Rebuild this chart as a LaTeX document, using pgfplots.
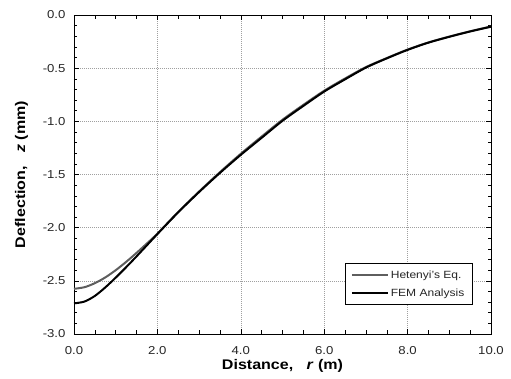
\documentclass[border=0pt]{standalone}
\usepackage{pgfplots}
\pgfplotsset{compat=1.18}
\usepackage{fontspec}
\setmainfont{Liberation Sans}[FakeStretch=1.15]
\usetikzlibrary{calc}
\definecolor{hetgray}{HTML}{5E5E5E}
\definecolor{gridgray}{HTML}{A0A0A0}
\begin{document}
\begin{tikzpicture}
\begin{axis}[
  scale only axis,
  width=417bp, height=319bp,
  xmin=0, xmax=10, ymin=-3, ymax=0,
  xtick={0,2,4,6,8,10},
  ytick={-3,-2.5,-2,-1.5,-1,-0.5,0},
  minor x tick num=3,
  minor y tick num=4,
  tick align=inside,
  major tick length=5bp,
  minor tick length=3.5bp,
  tick style={black, line width=0.5pt},
  axis line style={black, line width=0.6pt},
  grid=major,
  major grid style={gridgray, line width=0.6bp, dash pattern=on 1bp off 1bp},
  /pgf/number format/assume math mode=true,
  /pgf/number format/.cd, fixed, fixed zerofill, precision=1, /pgfplots/.cd,
  ticklabel style={font=\fontsize{11.5}{13}\selectfont, text=black!85},
  xticklabel style={anchor=center, yshift=-13.7bp-0.5ex},
  yticklabel style={xshift=-5bp},
  xlabel={\textbf{Distance,\ \ \ \textit{r} (m)}},
  ylabel={\textbf{Deflection,\ \ \ \textit{z} (mm)}},
  label style={font=\fontsize{14}{16}\selectfont},
  xlabel style={at={(axis description cs:0.5,-0.0994)}, anchor=center},
  ylabel style={at={(axis description cs:-0.1259,0.5)}, anchor=center},
  legend style={at={(0.956,0.091)}, anchor=south east, draw=black, line width=0.6pt,
    font=\fontsize{10.5}{12}\selectfont, text=black!85, inner xsep=6bp, inner ysep=5bp,
    row sep=5bp, fill=white},
  legend cell align=left,
  legend image code/.code={\draw[#1, line width=2pt] (0bp,0bp) -- (36bp,0bp);},
]
\addplot[hetgray, line width=2pt, smooth] coordinates {
(0.00,-2.575) (0.25,-2.560) (0.50,-2.522) (0.75,-2.468) (1.00,-2.400)
(1.25,-2.322) (1.50,-2.237) (1.75,-2.148) (2.00,-2.056) (2.50,-1.852)
(3.00,-1.660) (3.50,-1.478) (4.00,-1.305) (4.50,-1.143) (5.00,-0.985)
(5.50,-0.845) (6.00,-0.712) (6.50,-0.597) (7.00,-0.490) (7.50,-0.405)
(8.00,-0.325) (8.50,-0.258) (9.00,-0.203) (9.50,-0.153) (10.00,-0.108)
};
\addlegendentry{Hetenyi's Eq.}
\addplot[black, line width=2pt, smooth] coordinates {
(0.00,-2.712) (0.25,-2.695) (0.50,-2.642) (0.75,-2.562) (1.00,-2.470)
(1.25,-2.372) (1.50,-2.270) (1.75,-2.165) (2.00,-2.060) (2.50,-1.855)
(3.00,-1.665) (3.50,-1.485) (4.00,-1.315) (4.50,-1.155) (5.00,-0.995)
(5.50,-0.855) (6.00,-0.720) (6.50,-0.605) (7.00,-0.495) (7.50,-0.408)
(8.00,-0.328) (8.50,-0.260) (9.00,-0.205) (9.50,-0.155) (10.00,-0.110)
};
\addlegendentry{FEM Analysis}
\end{axis}
\pgfresetboundingbox
\path ($(current axis.south west)+(-74bp,-45bp)$) rectangle ($(current axis.north east)+(20bp,15bp)$);
\end{tikzpicture}
\end{document}
